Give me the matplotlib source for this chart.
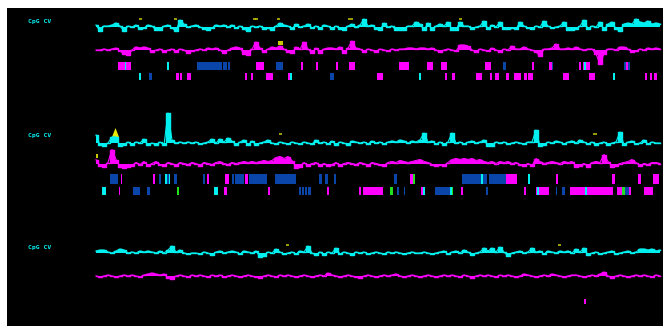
import matplotlib
matplotlib.use("Agg")
import matplotlib.pyplot as plt
import numpy as np

# --- data -----------------------------------------------------------------
WIN = 4  # window width (position units)

p1_cpg = [2, -4, 1, 1, 2, 4, 1, -4, 1, 0, 2, -2, -1, 2, 1, -3, -3, 1, 2, -1,
          -4, 7, 3, 0, 1, 2, 0, -2, -3, -1, 2, 1, 2, 0, 2, -1, 1, -2, -4, 1,
          0, 1, -2, -1, -3, 1, 4, 2, 1, -2, 3, 0, 1, 3, -1, 1, -2, 2, 1, -2,
          1, -2, -3, 1, 3, 0, 2, 8, 1, 2, -2, -3, 4, 0, 1, -3, -3, -3, 1, 1,
          5, 3, -3, 4, -3, 1, 3, 1, 5, -3, -3, 5, 1, 1, -2, 0, 1, 6, -2, 2,
          0, 5, -2, -2, -1, -2, 5, 1, -1, -2, 1, 0, 6, 1, -1, 0, 1, 5, -3, -3,
          -2, 1, 7, -2, 1, 0, 5, -3, 3, 5, -2, -4, 3, 4, 3, 8, 5, 4, 6, 3,
          4, 3]
p1_cv = [0, 0, 1, 0, 1, 2, -1, -4, -5, 0, 3, 2, 3, 2, -2, 0, 1, -2, 0, 1,
         -2, 1, 0, -3, -1, 0, 1, 0, 2, 1, 2, 0, -3, 0, 2, 3, 2, -4, -5, 1,
         8, 2, -2, 1, 3, 2, 4, 1, -2, -3, 3, 1, 8, 1, -3, 2, -3, 1, 2, 2,
         1, 3, -3, 2, 9, 2, 1, -2, 1, 0, -2, 1, 0, -1, 1, 0, 1, 1, 2, 2,
         1, 2, 2, 1, 2, 0, -2, 0, 1, 0, -1, 5, 5, 4, 0, -2, 1, 0, -1, 2,
         0, -2, 1, 0, 4, 1, 1, 3, 1, 0, -2, -6, 1, 1, 2, 6, 1, 1, 2, 1,
         3, 1, 0, 1, 1, -4, -14, -4, 1, 1, 0, 3, 3, 1, -2, -1, 1, 0, 2, 1,
         2, 1]
p2_cpg = [8, -2, -3, 0, 6, 6, -3, -2, 1, -2, 1, 0, 4, -2, 0, -2, 1, -2, 30, 3,
          0, 1, 0, 1, 0, 1, -1, 0, 1, 4, 0, 4, 1, 5, 2, -2, 1, 3, -2, 2,
          -2, 0, 1, 3, 0, -1, 1, 0, -1, 1, 0, -1, 1, 0, -1, 3, 0, 1, -1, 2,
          -2, 1, 0, -2, 2, 1, 0, 1, -1, 2, 0, 1, -1, 1, 2, 1, 3, 2, 0, 2,
          1, 3, 10, 1, 2, -1, 1, -2, 1, 10, 0, 1, -1, 1, 2, 0, 1, 3, -3, -3,
          1, 0, 1, -1, 0, 1, 0, -1, 1, 1, 13, -3, -2, 1, 0, 2, 1, -1, 1, 2,
          0, 3, 1, -1, 1, -2, 0, 1, -2, 0, 1, 11, -2, 1, 2, -1, 0, 3, -1, 1,
          0, 0]
p2_cv = [4, -2, -3, 1, 14, 4, -3, -4, -3, -2, 1, -1, 2, -2, 0, 2, -1, -2, 1, 0,
         -2, 1, 0, -1, 1, 0, -2, 1, 0, -1, 1, 2, 0, -1, 1, 0, 1, 2, 1, 2,
         1, 2, 3, 2, 3, 6, 7, 5, 7, 3, -4, -3, 1, -2, 0, 1, -2, 0, -2, -1,
         1, -2, 0, 1, 0, -1, 1, 0, -2, 1, 0, -1, -2, 1, 2, 1, 3, 2, 1, 2,
         3, 4, 2, 1, -1, -2, -1, -2, 1, 4, 5, 4, 5, 4, 5, 3, 4, 2, 1, 2,
         0, 2, 1, 2, 0, 1, -1, -2, 0, -2, 5, 2, 0, 1, 2, 1, 0, 2, 1, 2,
         -3, -2, 0, -3, 1, 2, 1, 9, 2, -3, -2, 0, 1, 2, 4, 1, -2, 0, -1, 1,
         1, 0]
p3_cpg = [2, 3, 3, 1, 0, 2, 4, 3, 0, 1, 0, 2, 1, 2, 1, 0, 2, 0, 3, 7,
          1, 3, 0, -1, 0, 0, -1, 1, 0, -2, 1, 2, 0, 1, 2, 1, -1, 2, 1, 0,
          2, -4, -3, 1, 0, 4, 1, -1, 0, 1, -1, 2, 1, 7, 0, -2, 1, -2, 1, 0,
          5, -1, 1, 0, -2, 1, 0, 1, -1, 0, 1, 0, -1, 1, 0, 1, 0, -1, 0, 1,
          0, 0, 1, 0, -1, 0, 1, 2, -1, 1, 2, 0, 3, 1, -2, 0, 1, 5, 2, 5,
          1, 6, 1, -3, 0, 1, 2, 0, 1, 5, 1, 2, -1, 2, 1, 0, 2, 1, 2, 0,
          4, 1, 5, -2, 0, 1, -1, 0, 1, 2, -1, 0, 1, 2, 0, 1, 4, 4, 3, 4,
          2, 3]
p3_cv = [0, -1, 0, 1, 0, -1, 0, 1, 0, 1, 0, -1, 1, 2, 3, 2, 1, 2, -2, -3,
         0, 1, 0, -1, 1, 0, 1, 0, -1, 1, 0, 1, -1, 0, 1, 0, -1, 0, 1, 0,
         -1, -2, 0, 1, 0, -1, 1, 0, 1, 0, -1, 0, 1, 0, -1, 0, 1, 0, 3, 1,
         0, -1, 0, 1, 0, -1, -2, 0, 1, 0, -1, 0, 1, 0, 1, 2, 0, -1, 0, 1,
         0, -1, 0, 1, 0, -1, 0, 1, 0, 1, 0, -1, 1, 0, -2, 0, 1, 0, 1, 0,
         -1, 1, 0, 1, 0, -1, 0, 2, 1, 0, -1, 0, 1, 0, 2, 1, 0, -1, 0, 1,
         1, 0, -1, 0, 1, 0, 2, 4, 0, -2, 0, 1, 0, -1, 0, 1, 0, 1, 0, -1,
         1, 0]

# features: (start, end, type)
p1_row1 = [(22, 35, "m"), (28.5, 29.5, "c"), (71, 73, "c"), (101, 126, "b"),
           (127, 131, "b"), (131.5, 133.5, "b"), (160, 168, "m"), (180, 187, "b"),
           (205, 207, "m"), (220, 222, "m"), (240, 241.5, "m"), (253, 259, "m"),
           (303, 313, "m"), (331, 337, "m"), (345, 351, "m"), (389, 395, "m"),
           (407, 410, "b"), (436, 438, "m"), (453, 456, "m"), (456, 457, "b"),
           (483, 484.5, "m"), (487, 494, "m"), (488, 490, "c"), (527.5, 530, "b"),
           (530, 532, "m"), (532, 534, "b")]
p1_row2 = [(42.5, 44.5, "c"), (53, 56, "b"), (80, 83, "m"), (84, 85.5, "m"),
           (91, 95, "m"), (149, 151, "m"), (155, 157, "m"), (170, 177, "m"),
           (192, 194, "m"), (194, 196, "c"), (234, 238, "b"), (281, 287, "m"),
           (323, 325, "c"), (349, 351, "m"), (356, 359, "m"), (380, 386, "m"),
           (394, 396, "m"), (398.5, 402.5, "m"), (410, 412.5, "m"), (418, 424.5, "m"),
           (428, 430.5, "m"), (432, 436.5, "m"), (467, 473, "m"), (493, 499, "m"),
           (517, 519, "c"), (549, 551, "m"), (554, 556, "m"), (558, 561, "m")]
p2_row1 = [(14, 22, "b"), (24.5, 26, "m"), (57, 59, "m"), (62.5, 64.5, "b"),
           (68.5, 71, "c"), (71, 72.5, "b"), (72.5, 74, "c"), (78, 81, "b"),
           (107, 109, "b"), (110.5, 112.5, "m"), (129, 133, "m"), (136, 138, "b"),
           (139, 148, "b"), (149, 152, "m"), (153, 171, "b"), (179, 200, "b"),
           (223, 226, "b"), (228.5, 231.5, "b"), (238, 240, "b"), (298, 300.5, "b"),
           (313.5, 316.5, "m"), (316.5, 318.5, "g"), (366, 384.5, "b"), (384.5, 386.5, "c"),
           (386.5, 391, "b"), (392.5, 409.5, "b"), (409.5, 420.5, "m"), (432, 434, "c"),
           (460, 462, "m"), (516, 519, "m"), (541.5, 544.5, "m"), (557, 562.5, "m")]
p2_row2 = [(6, 9.5, "c"), (22.5, 24, "m"), (36.5, 43.5, "b"), (51, 53.5, "b"),
           (81, 83, "g"), (118, 121.5, "c"), (128, 131, "m"), (172, 173.5, "m"),
           (203, 205, "b"), (206, 208, "b"), (209, 211, "b"), (212, 215, "b"),
           (231, 233, "m"), (263, 265, "m"), (266.5, 286.5, "m"), (294, 296.5, "g"),
           (301, 302.5, "b"), (307.5, 309, "b"), (325, 327, "m"), (327, 329, "c"),
           (339, 354, "b"), (354, 355.7, "c"), (355.7, 357, "g"), (365, 367, "m"),
           (389.5, 392, "b"), (427.5, 429.5, "m"), (439.5, 441, "m"), (441, 442.5, "c"),
           (442.5, 452.5, "m"), (459.5, 461, "b"), (465.5, 468.5, "b"), (474, 489, "m"),
           (489, 490.5, "c"), (490.5, 517, "m"), (521, 525.5, "m"), (526, 529, "g"),
           (529, 533, "b"), (533, 535, "m"), (548, 557, "m")]
p3_row2 = [(488, 489.5, "m")]

# small flags above the CpG trace: (start, end)
p1_flags = [(43, 46), (78, 81), (157, 160), (159, 162), (181, 184), (252, 257), (363, 366)]
p2_flags = [(183, 186), (497, 501)]
p3_flags = [(190, 193), (462, 465)]

# --- style ------------------------------------------------------------------
COL = {"c": "#00f0f0", "m": "#ff00ff", "b": "#0a46aa", "g": "#20e020"}
YEL = "#c8c800"

# layout in pixels from the top of the image
panels = [
    dict(label=21, cpg=27, cv=50, r1=(62, 70), r2=(73, 80),
         cpg_v=p1_cpg, cv_v=p1_cv, row1=p1_row1, row2=p1_row2, flags=p1_flags, fl=8),
    dict(label=135, cpg=143, cv=163.5, r1=(174, 184), r2=(187, 195),
         cpg_v=p2_cpg, cv_v=p2_cv, row1=p2_row1, row2=p2_row2, flags=p2_flags, fl=9),
    dict(label=247, cpg=253, cv=276, r1=(287, 295), r2=(299, 303.5),
         cpg_v=p3_cpg, cv_v=p3_cv, row1=[], row2=p3_row2, flags=p3_flags, fl=8),
]

H = 326


def Y(py):
    return H - py


fig = plt.figure(figsize=(6.63, 3.26), dpi=100, facecolor="white")
ax = fig.add_axes([7 / 663, 0, 656 / 663, 318 / 326])
ax.set_facecolor("black")
ax.set_xlim(-89, 567)
ax.set_ylim(0, 318)
ax.set_xticks([])
ax.set_yticks([])
for s in ax.spines.values():
    s.set_visible(False)

for p in panels:
    ax.text(-68, Y(p["label"]), "CpG CV", color=COL["c"], fontsize=4.6,
            family="DejaVu Sans Mono", fontweight="bold", va="center", ha="left")

    for key, col in (("cpg", COL["c"]), ("cv", COL["m"])):
        v = np.array(p[key + "_v"], dtype=float)
        x = np.arange(len(v)) * WIN
        base = Y(p[key])
        ax.fill_between(x, base, base + v, color=col, lw=0, step="mid")
        ax.plot(x, base + v, color=col, lw=1.0, drawstyle="steps-mid")
        ax.plot(x, base + v, color=col, lw=0.8)

    for rows, (top, bot) in ((p["row1"], p["r1"]), (p["row2"], p["r2"])):
        for x0, x1, t in rows:
            ax.fill_between([x0, x1], Y(bot), Y(top), color=COL[t], lw=0)

    for x0, x1 in p["flags"]:
        ax.plot([x0, x1], [Y(p["cpg"]) + p["fl"]] * 2, color=YEL, lw=1.1,
                solid_capstyle="butt")

# threshold highlights
ax.fill([16, 19.5, 23], [Y(137), Y(128), Y(137)], color="#e8e800", lw=0)
ax.fill_between([182, 187], Y(45), Y(41), color=YEL, lw=0)
ax.fill_between([0, 1.5], Y(158), Y(154), color=YEL, lw=0)

fig.savefig("out.png", dpi=100, facecolor=fig.get_facecolor())
